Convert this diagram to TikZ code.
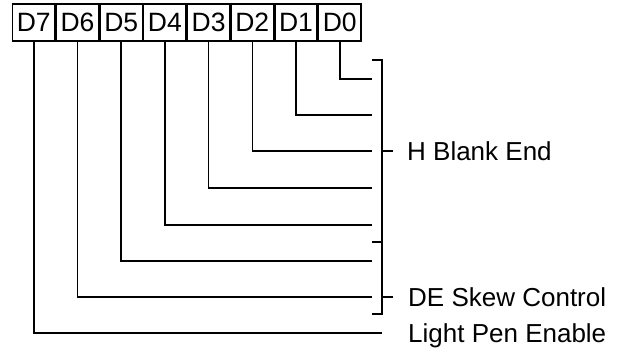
\documentclass[tikz,border=0pt]{standalone}
\usepackage{fontspec}
\setmainfont{Liberation Sans}
\usetikzlibrary{positioning}

\begin{document}
\begin{tikzpicture}[
    x=1pt, y=-1pt,
    node distance=0pt,
    bit/.style={draw, line width=1.4pt, minimum width=42.3pt, minimum height=37pt, inner sep=0pt, font=\fontsize{26.5}{28}\selectfont},
    wire/.style={line width=1.6pt},
    lbl/.style={anchor=base west, inner sep=0pt, font=\fontsize{26}{28}\selectfont},
]
\useasboundingbox (0,0) rectangle (621,349);

% Register bits
\node[bit] (d7) at (33.8,22.5) {D7};
\node[bit, right=of d7] (d6) {D6};
\node[bit, right=of d6] (d5) {D5};
\node[bit, right=of d5] (d4) {D4};
\node[bit, right=of d4] (d3) {D3};
\node[bit, right=of d3] (d2) {D2};
\node[bit, right=of d2] (d1) {D1};
\node[bit, right=of d1] (d0) {D0};

% Wire ends
\coordinate (e0) at (372,79);
\coordinate (e1) at (372,115);
\coordinate (e2) at (372,151);
\coordinate (e3) at (372,188);
\coordinate (e4) at (372,225);
\coordinate (e5) at (372,261);
\coordinate (e6) at (372,297);
\coordinate (e7) at (382,333);

\foreach \i in {0,...,7}
    \draw[wire] (d\i.south) |- (e\i);

% Brackets
\draw[wire] (372,60) -- (382,60) -- (382,314) -- (372,314);
\draw[wire] (372,242) -- (382,242);
\draw[wire] (382,151) -- (393,151);
\draw[wire] (382,297) -- (393,297);

% Labels
\node[lbl] (hblank) at (407,160) {H Blank End};
\node[lbl] (skew) at (408,306) {DE Skew Control};
\node[lbl] (pen) at (408,342) {Light Pen Enable};

\end{tikzpicture}
\end{document}
